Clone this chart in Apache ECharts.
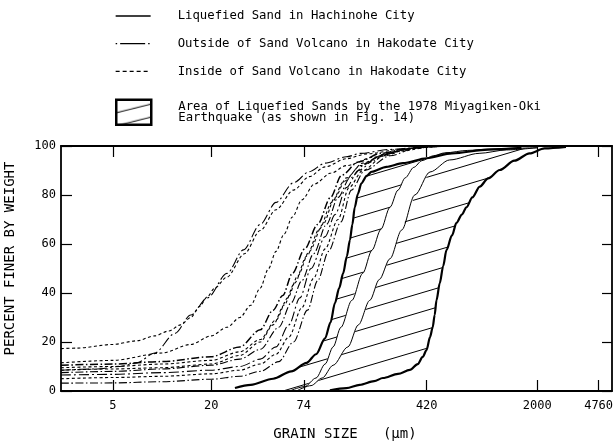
<!DOCTYPE html>
<html><head><meta charset="utf-8">
<script src="https://cdn.jsdelivr.net/npm/echarts@6/dist/echarts.min.js"></script>
<style>html,body{margin:0;padding:0;background:#fff}#c{width:616px;height:444px}</style>
</head><body><div id="c"></div>
<script>
// ---- tick labels ----
const xTicks = [5, 20, 74, 420, 2000, 4760];
const yTicks = [0, 20, 40, 60, 80, 100];

// ---- series names ----
const NAME_HACHINOHE = 'Liquefied Sand in Hachinohe City';
const NAME_OUTSIDE = 'Outside of Sand Volcano in Hakodate City';
const NAME_INSIDE = 'Inside of Sand Volcano in Hakodate City';
const NAME_AREA = 'Area of Liquefied Sands by the 1978 Miyagiken-Oki\nEarthquake (as shown in Fig. 14)';

// ---- data: [grain size (µm), percent finer] ----
// Liquefied sand in Hachinohe City (thin solid)
const hachinohe1 = [[62,0.3],[75,1.8],[88,5.3],[100,11],[112,18],[125,26],[146,37],[170,48],[194,57.5],[220,66],[250,75],[280,82],[310,87],[350,91.3],[392,94],[460,96],[542,97.2],[750,98.2],[1000,98.7],[1500,99.1],[2000,99.3]];
const hachinohe2 = [[68,0.3],[82,2.2],[96,5.3],[112,10.5],[138,18],[160,27],[188,37],[215,45.5],[250,54],[295,65.7],[355,80],[440,89.4],[580,94.3],[880,97],[1300,98.4],[2000,99.3]];

// Area of liquefied sands (1978 Miyagiken-Oki) boundaries (thick)
const areaLeft = [[28,1.2],[35,2.5],[48,5],[62,8],[77,11.5],[88,15],[100,21.5],[108,28],[115,36],[122,42],[129,48],[136,55],[142,61.6],[147,68],[152,75],[159,80.5],[167,84.8],[180,87.8],[193,89.5],[238,91.5],[300,93],[420,95],[600,97],[1000,98.5],[1600,99.2]];
const areaRight = [[107,0.3],[135,1.2],[163,2.5],[200,4],[226,5.3],[280,7],[331,8.6],[370,11],[397,13.9],[419,16.7],[440,22],[457,26],[470,31],[482,37],[505,44],[530,51],[555,57.5],[600,63.5],[639,68.6],[690,72],[736,75],[800,79],[888,83.4],[1000,86.8],[1177,90.2],[1450,94],[1795,97],[2218,99],[3000,99.6]];

// Outside of sand volcano in Hakodate City (dash-dot)
const outside1 = [[2.4,8.5],[4,9],[5.5,10],[7,11.5],[9,15.5],[12,23.5],[15,31],[19,38],[25,48],[31.6,57.6],[40,68],[50,77],[64,85],[80,89.5],[100,93],[135,95.6],[165,97],[250,98.6],[420,99.6],[600,100]];
const outside2 = [[2.4,10.5],[5,11],[10,12],[20,14],[30,18],[40,25],[48,33],[55,39],[63,48],[75,58],[90,68],[108,79],[126,88],[160,93.5],[220,97],[320,99],[450,100]];
const outside3 = [[2.4,7.5],[5,8],[10,9],[20,10.5],[30,13],[40,17],[52,26],[62,36],[72,45],[85,56],[102,68],[120,79],[142,87],[180,93],[250,97.5],[360,99.3],[500,100]];
const outside4 = [[2.4,6.5],[5,6.8],[10,7.5],[20,8.5],[30,10],[40,13],[50,18],[60,27],[70,38],[82,50],[100,63],[115,72],[135,83],[160,90],[210,95.5],[300,98.5],[450,100]];
const outside5 = [[2.4,3.2],[5,3.3],[10,3.8],[20,4.8],[30,6],[40,8],[52,12],[64,20],[78,33],[90,45],[105,57],[125,69],[145,82],[175,90],[250,96],[360,99.2],[500,100]];

// Inside of sand volcano in Hakodate City (short dashes)
const inside1 = [[2.4,17.3],[3,17.5],[5,19],[7,20.5],[9,22.5],[11,24.5],[13,27],[15,30],[17,34.5],[19,38.5],[21,42],[25,46.5],[32,56],[40,65.5],[50,74],[64,82],[80,87.5],[100,91.5],[135,94.8],[180,96.8],[300,98.8],[500,100]];
const inside2 = [[2.4,11.5],[5,12.5],[10,15.5],[15,19],[20,22.5],[25,26],[30,30],[35,35],[40,42],[45,50],[50,57],[56,64],[63,71],[72,78],[86,84.5],[109,89],[135,92],[200,95.5],[300,98],[450,99.7],[600,100]];
const inside3 = [[2.4,9.5],[5,10],[10,11],[20,12.5],[30,16],[40,21],[50,29],[59,38],[68,47],[80,57],[97,68],[115,79],[135,87],[170,93],[240,97],[350,99.2],[480,100]];
const inside4 = [[2.4,5],[5,5.5],[10,6],[20,7],[30,8.5],[40,11],[50,15],[60,22],[72,34],[85,46],[100,58],[120,70],[140,83],[170,90],[230,96],[330,99],[480,100]];
const inside5 = [[2.4,8.5],[5,9],[10,9.5],[20,11],[30,14.5],[40,20],[48,27],[56,35],[65,44],[77,55],[92,66],[110,77],[130,85.5],[165,92],[230,96.5],[330,99],[450,100]];

// ---- styling ----
const FONT = 'DejaVu Sans Mono';
const DASHDOT = [8, 2.5, 1.5, 2.5];
const LONGDASHDOT = [10, 3, 2, 3];
const SHORTDASH = [3, 2.5];

function hatchCanvas(W, H) {
  const c = document.createElement('canvas');
  c.width = W; c.height = H;
  const g = c.getContext('2d');
  g.strokeStyle = '#000'; g.lineWidth = 1;
  for (const k of [-1, 0, 1]) {
    g.beginPath(); g.moveTo(0, H + k * H); g.lineTo(W, k * H); g.stroke();
  }
  return c;
}
const hatch = { image: hatchCanvas(64, 19), repeat: 'repeat' };
const hatchLegend = { image: hatchCanvas(52, 13), repeat: 'repeat' };

function lineSeries(name, data, type, width, z) {
  return {
    type: 'line', name: name, data: data, symbol: 'none', showSymbol: false,
    smooth: 0.3, smoothMonotone: 'x', silent: true, z: z || 3,
    lineStyle: { color: '#000', width: width, type: type },
    itemStyle: { color: '#000' }
  };
}

const axisLine = { show: true, onZero: false, lineStyle: { color: '#000', width: 1.8 } };
const tickStyle = { color: '#000', width: 1.2 };
const noSymbol = { color: 'rgba(0,0,0,0)', borderColor: 'rgba(0,0,0,0)', borderWidth: 0 };

const chart = echarts.init(document.getElementById('c'), null, { renderer: 'canvas' });
chart.setOption({
  animation: false,
  backgroundColor: '#fff',
  grid: { left: 61, right: 4, top: 146, bottom: 53, containLabel: false, outerBoundsMode: 'none' },
  legend: [{
    data: [
      { name: NAME_HACHINOHE, itemStyle: noSymbol, lineStyle: { color: '#000', opacity: 1, type: 'solid', width: 1.3 } },
      { name: NAME_OUTSIDE, itemStyle: noSymbol, lineStyle: { color: '#000', opacity: 1, type: [1.5, 3, 25, 3, 1.5, 60], width: 1.3 } },
      { name: NAME_INSIDE, itemStyle: noSymbol, lineStyle: { color: '#000', opacity: 1, type: [4, 3], width: 1.3 } }
    ],
    orient: 'vertical', left: 115, top: 9, itemWidth: 35, itemHeight: 14, itemGap: 13.7,
    padding: 0, selectedMode: false,
    textStyle: { fontFamily: FONT, fontSize: 12.3, color: '#000', lineHeight: 14, padding: [0, 0, 0, 22] }
  }, {
    data: [{ name: NAME_AREA, icon: 'rect', itemStyle: { color: hatchLegend, borderColor: '#000', borderWidth: 2.5 } }],
    orient: 'vertical', left: 115, top: 98.5, itemWidth: 35, itemHeight: 25,
    padding: 0, selectedMode: false,
    textStyle: { fontFamily: FONT, fontSize: 12.3, color: '#000', lineHeight: 10.5, padding: [0, 0, 5, 22] }
  }],
  xAxis: [{
    type: 'log', logBase: 10, min: 2.4, max: 5750, position: 'bottom',
    axisLine: axisLine,
    axisTick: { show: true, inside: true, length: 11, customValues: xTicks, lineStyle: tickStyle },
    axisLabel: { customValues: xTicks, margin: 9, fontFamily: FONT, fontSize: 12, color: '#000',
      formatter: function (v) { return String(Math.round(v)); } },
    splitLine: { show: false },
    name: 'GRAIN SIZE   (µm)', nameLocation: 'middle', nameGap: 36,
    nameTextStyle: { fontFamily: FONT, fontSize: 14, color: '#000', padding: [0, 0, 0, 17] }
  }, {
    type: 'log', logBase: 10, min: 2.4, max: 5750, position: 'top',
    axisLine: axisLine,
    axisTick: { show: true, inside: true, length: 11, customValues: xTicks, lineStyle: tickStyle },
    axisLabel: { show: false },
    splitLine: { show: false }
  }],
  yAxis: [{
    type: 'value', min: 0, max: 100, interval: 20, position: 'left',
    axisLine: axisLine,
    axisTick: { show: true, inside: true, length: 11, lineStyle: tickStyle },
    axisLabel: { margin: 5, fontFamily: FONT, fontSize: 12, color: '#000',
      customValues: yTicks },
    splitLine: { show: false },
    name: 'PERCENT FINER BY WEIGHT', nameLocation: 'middle', nameGap: 44,
    nameTextStyle: { fontFamily: FONT, fontSize: 14, color: '#000', padding: [0, 0, 0, 20] }
  }, {
    type: 'value', min: 0, max: 100, interval: 20, position: 'right',
    axisLine: axisLine,
    axisTick: { show: true, inside: true, length: 10, lineStyle: tickStyle },
    axisLabel: { show: false },
    splitLine: { show: false }
  }],
  series: [
    {
      type: 'custom', name: NAME_AREA, data: [[100, 50]], silent: true, z: 1,
      itemStyle: { color: hatch },
      renderItem: function (params, api) {
        function poly(outer, inner) {
          return outer.map(function (p) { return api.coord(p); })
            .concat(inner.slice().reverse().map(function (p) { return api.coord(p); }));
        }
        return {
          type: 'group', children: [
            { type: 'polygon', shape: { points: poly(areaLeft, hachinohe1) }, style: { fill: hatch, stroke: null } },
            { type: 'polygon', shape: { points: poly(hachinohe2, areaRight) }, style: { fill: hatch, stroke: null } }
          ]
        };
      }
    },
    lineSeries(NAME_HACHINOHE, hachinohe1, 'solid', 1),
    lineSeries(NAME_HACHINOHE, hachinohe2, 'solid', 1),
    lineSeries('Area boundary (fine side)', areaLeft, 'solid', 2.2, 4),
    lineSeries('Area boundary (coarse side)', areaRight, 'solid', 2.2, 4),
    lineSeries(NAME_OUTSIDE, outside1, LONGDASHDOT, 1.1),
    lineSeries(NAME_OUTSIDE, outside2, DASHDOT, 1.5),
    lineSeries(NAME_OUTSIDE, outside3, DASHDOT, 1.1),
    lineSeries(NAME_OUTSIDE, outside4, LONGDASHDOT, 1.1),
    lineSeries(NAME_OUTSIDE, outside5, DASHDOT, 1.1),
    lineSeries(NAME_INSIDE, inside1, SHORTDASH, 1.1),
    lineSeries(NAME_INSIDE, inside2, SHORTDASH, 1.1),
    lineSeries(NAME_INSIDE, inside3, SHORTDASH, 1.1),
    lineSeries(NAME_INSIDE, inside4, SHORTDASH, 1.1),
    lineSeries(NAME_INSIDE, inside5, SHORTDASH, 1.1)
  ]
});
</script>
</body></html>
